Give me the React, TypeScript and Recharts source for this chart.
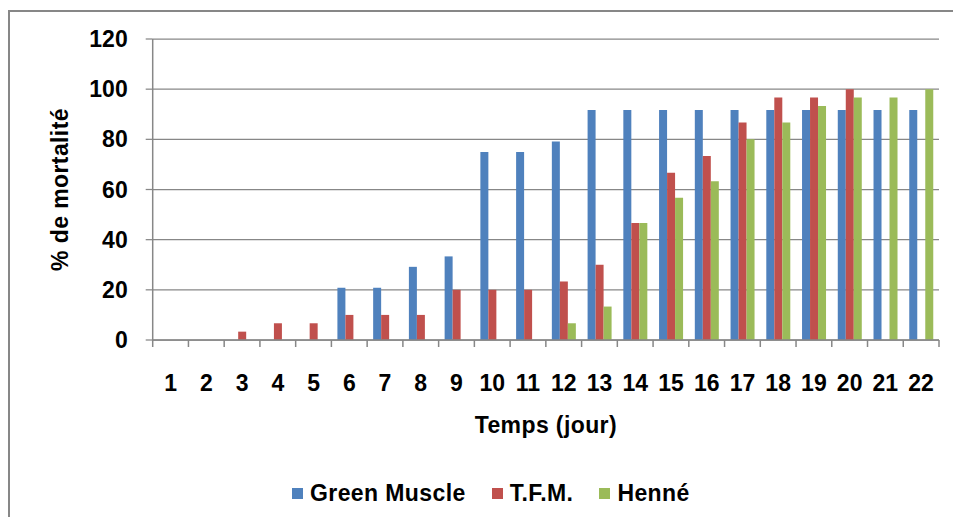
import React from 'react';
import { BarChart, Bar, XAxis, YAxis, CartesianGrid, Legend } from 'recharts';

const days = ['1', '2', '3', '4', '5', '6', '7', '8', '9', '10', '11', '12', '13', '14', '15', '16', '17', '18', '19', '20', '21', '22'];
const greenMuscle = [0, 0, 0, 0, 0, 20.83, 20.83, 29.17, 33.33, 75, 75, 79.17, 91.67, 91.67, 91.67, 91.67, 91.67, 91.67, 91.67, 91.67, 91.67, 91.67];
const tfm = [0, 0, 3.33, 6.67, 6.67, 10, 10, 10, 20, 20, 20, 23.33, 30, 46.67, 66.67, 73.33, 86.67, 96.67, 96.67, 100, 0, 0];
const henne = [0, 0, 0, 0, 0, 0, 0, 0, 0, 0, 0, 6.67, 13.33, 46.67, 56.67, 63.33, 80, 86.67, 93.33, 96.67, 96.67, 100];
const yTicks = [0, 20, 40, 60, 80, 100, 120];

const seriesNames = ['Green Muscle', 'T.F.M.', 'Henné'];
const colors = ['#4F81BD', '#C0504D', '#9BBB59'];

const data = days.map((d, i) => ({ day: d, gm: greenMuscle[i], tfm: tfm[i], henne: henne[i] }));

const FONT = '"Liberation Sans", Arial, sans-serif';
const GRAY = '#878787';
const CHART_W = 953;
const CHART_H = 517;
const MARGIN = { top: 31, right: 22, left: 0, bottom: 85 };
const Y_W = 144.7;
const PLOT_W = CHART_W - MARGIN.left - MARGIN.right - Y_W;
const BAND = PLOT_W / days.length;

const XTick = (props: any) => {
  const { x, y, payload, index } = props;
  return (
    <g>
      <line x1={x - BAND / 2} x2={x - BAND / 2} y1={y} y2={y + 7} stroke={GRAY} strokeWidth={1.5} />
      {index === days.length - 1 && (
        <line x1={x + BAND / 2} x2={x + BAND / 2} y1={y} y2={y + 7} stroke={GRAY} strokeWidth={1.5} />
      )}
      <text x={x} y={y + 43} textAnchor="middle" dominantBaseline="central" fontFamily={FONT} fontWeight={700} fontSize={23} fill="#000">
        {payload.value}
      </text>
    </g>
  );
};

const YTitle = (props: any) => {
  const vb = props.viewBox || { x: 0, y: 0, width: 0, height: 0 };
  const cy = vb.y + vb.height / 2;
  const cx = vb.x + 52;
  return (
    <text transform={`translate(${cx}, ${cy}) rotate(-90)`} textAnchor="middle" dominantBaseline="central" fontFamily={FONT} fontWeight={700} fontSize={23} fill="#000" letterSpacing={0.4}>
      % de mortalité
    </text>
  );
};

const XTitle = (props: any) => {
  const vb = props.viewBox || { x: 0, y: 0, width: 0, height: 0 };
  return (
    <text x={vb.x + vb.width / 2} y={vb.y + 85} textAnchor="middle" dominantBaseline="central" fontFamily={FONT} fontWeight={700} fontSize={23} fill="#000" letterSpacing={0.4}>
      Temps (jour)
    </text>
  );
};

const LegendContent = () => (
  <div style={{ display: 'flex', alignItems: 'center', height: 28, fontFamily: FONT, fontWeight: 700, fontSize: 23, color: '#000', whiteSpace: 'nowrap', letterSpacing: 0.4 }}>
    {seriesNames.map((n, i) => (
      <div key={n} style={{ display: 'flex', alignItems: 'center', marginRight: i < seriesNames.length - 1 ? 26 : 0 }}>
        <span style={{ display: 'inline-block', width: 11, height: 11, background: colors[i], marginRight: 7 }} />
        <span>{n}</span>
      </div>
    ))}
  </div>
);

export default function App() {
  return (
    <div style={{ position: 'relative', width: CHART_W, height: CHART_H, marginBottom: -8, overflow: 'hidden', background: '#fff' }}>
      <div style={{ position: 'absolute', left: 0, top: 2, width: 2000, height: 2000, borderLeft: `2px solid ${GRAY}`, borderTop: `2px solid ${GRAY}` }} />
      <div style={{ position: 'absolute', left: 0, top: 0 }}>
        <BarChart width={CHART_W} height={CHART_H} data={data} margin={MARGIN} barGap={0} barSize={8}>
          <CartesianGrid vertical={false} stroke={GRAY} strokeWidth={1.25} />
          <XAxis
            dataKey="day"
            interval={0}
            height={100}
            tickSize={0}
            tickMargin={0}
            tickLine={false}
            axisLine={{ stroke: GRAY, strokeWidth: 1.5 }}
            tick={<XTick />}
            label={{ content: (p: any) => <XTitle {...p} /> }}
          />
          <YAxis
            domain={[0, 120]}
            ticks={yTicks}
            width={Y_W}
            tickSize={7}
            tickMargin={18}
            tickLine={{ stroke: GRAY, strokeWidth: 1.25 }}
            axisLine={{ stroke: GRAY, strokeWidth: 1.5 }}
            tick={{ fill: '#000', fontSize: 23, fontWeight: 700, fontFamily: FONT }}
            label={{ content: (p: any) => <YTitle {...p} /> }}
          />
          <Legend
            layout="horizontal"
            verticalAlign="middle"
            align="center"
            wrapperStyle={{ top: 471, left: 284, width: 'auto' }}
            content={<LegendContent />}
          />
          <Bar dataKey="gm" name={seriesNames[0]} fill={colors[0]} isAnimationActive={false} />
          <Bar dataKey="tfm" name={seriesNames[1]} fill={colors[1]} isAnimationActive={false} />
          <Bar dataKey="henne" name={seriesNames[2]} fill={colors[2]} isAnimationActive={false} />
        </BarChart>
      </div>
    </div>
  );
}
